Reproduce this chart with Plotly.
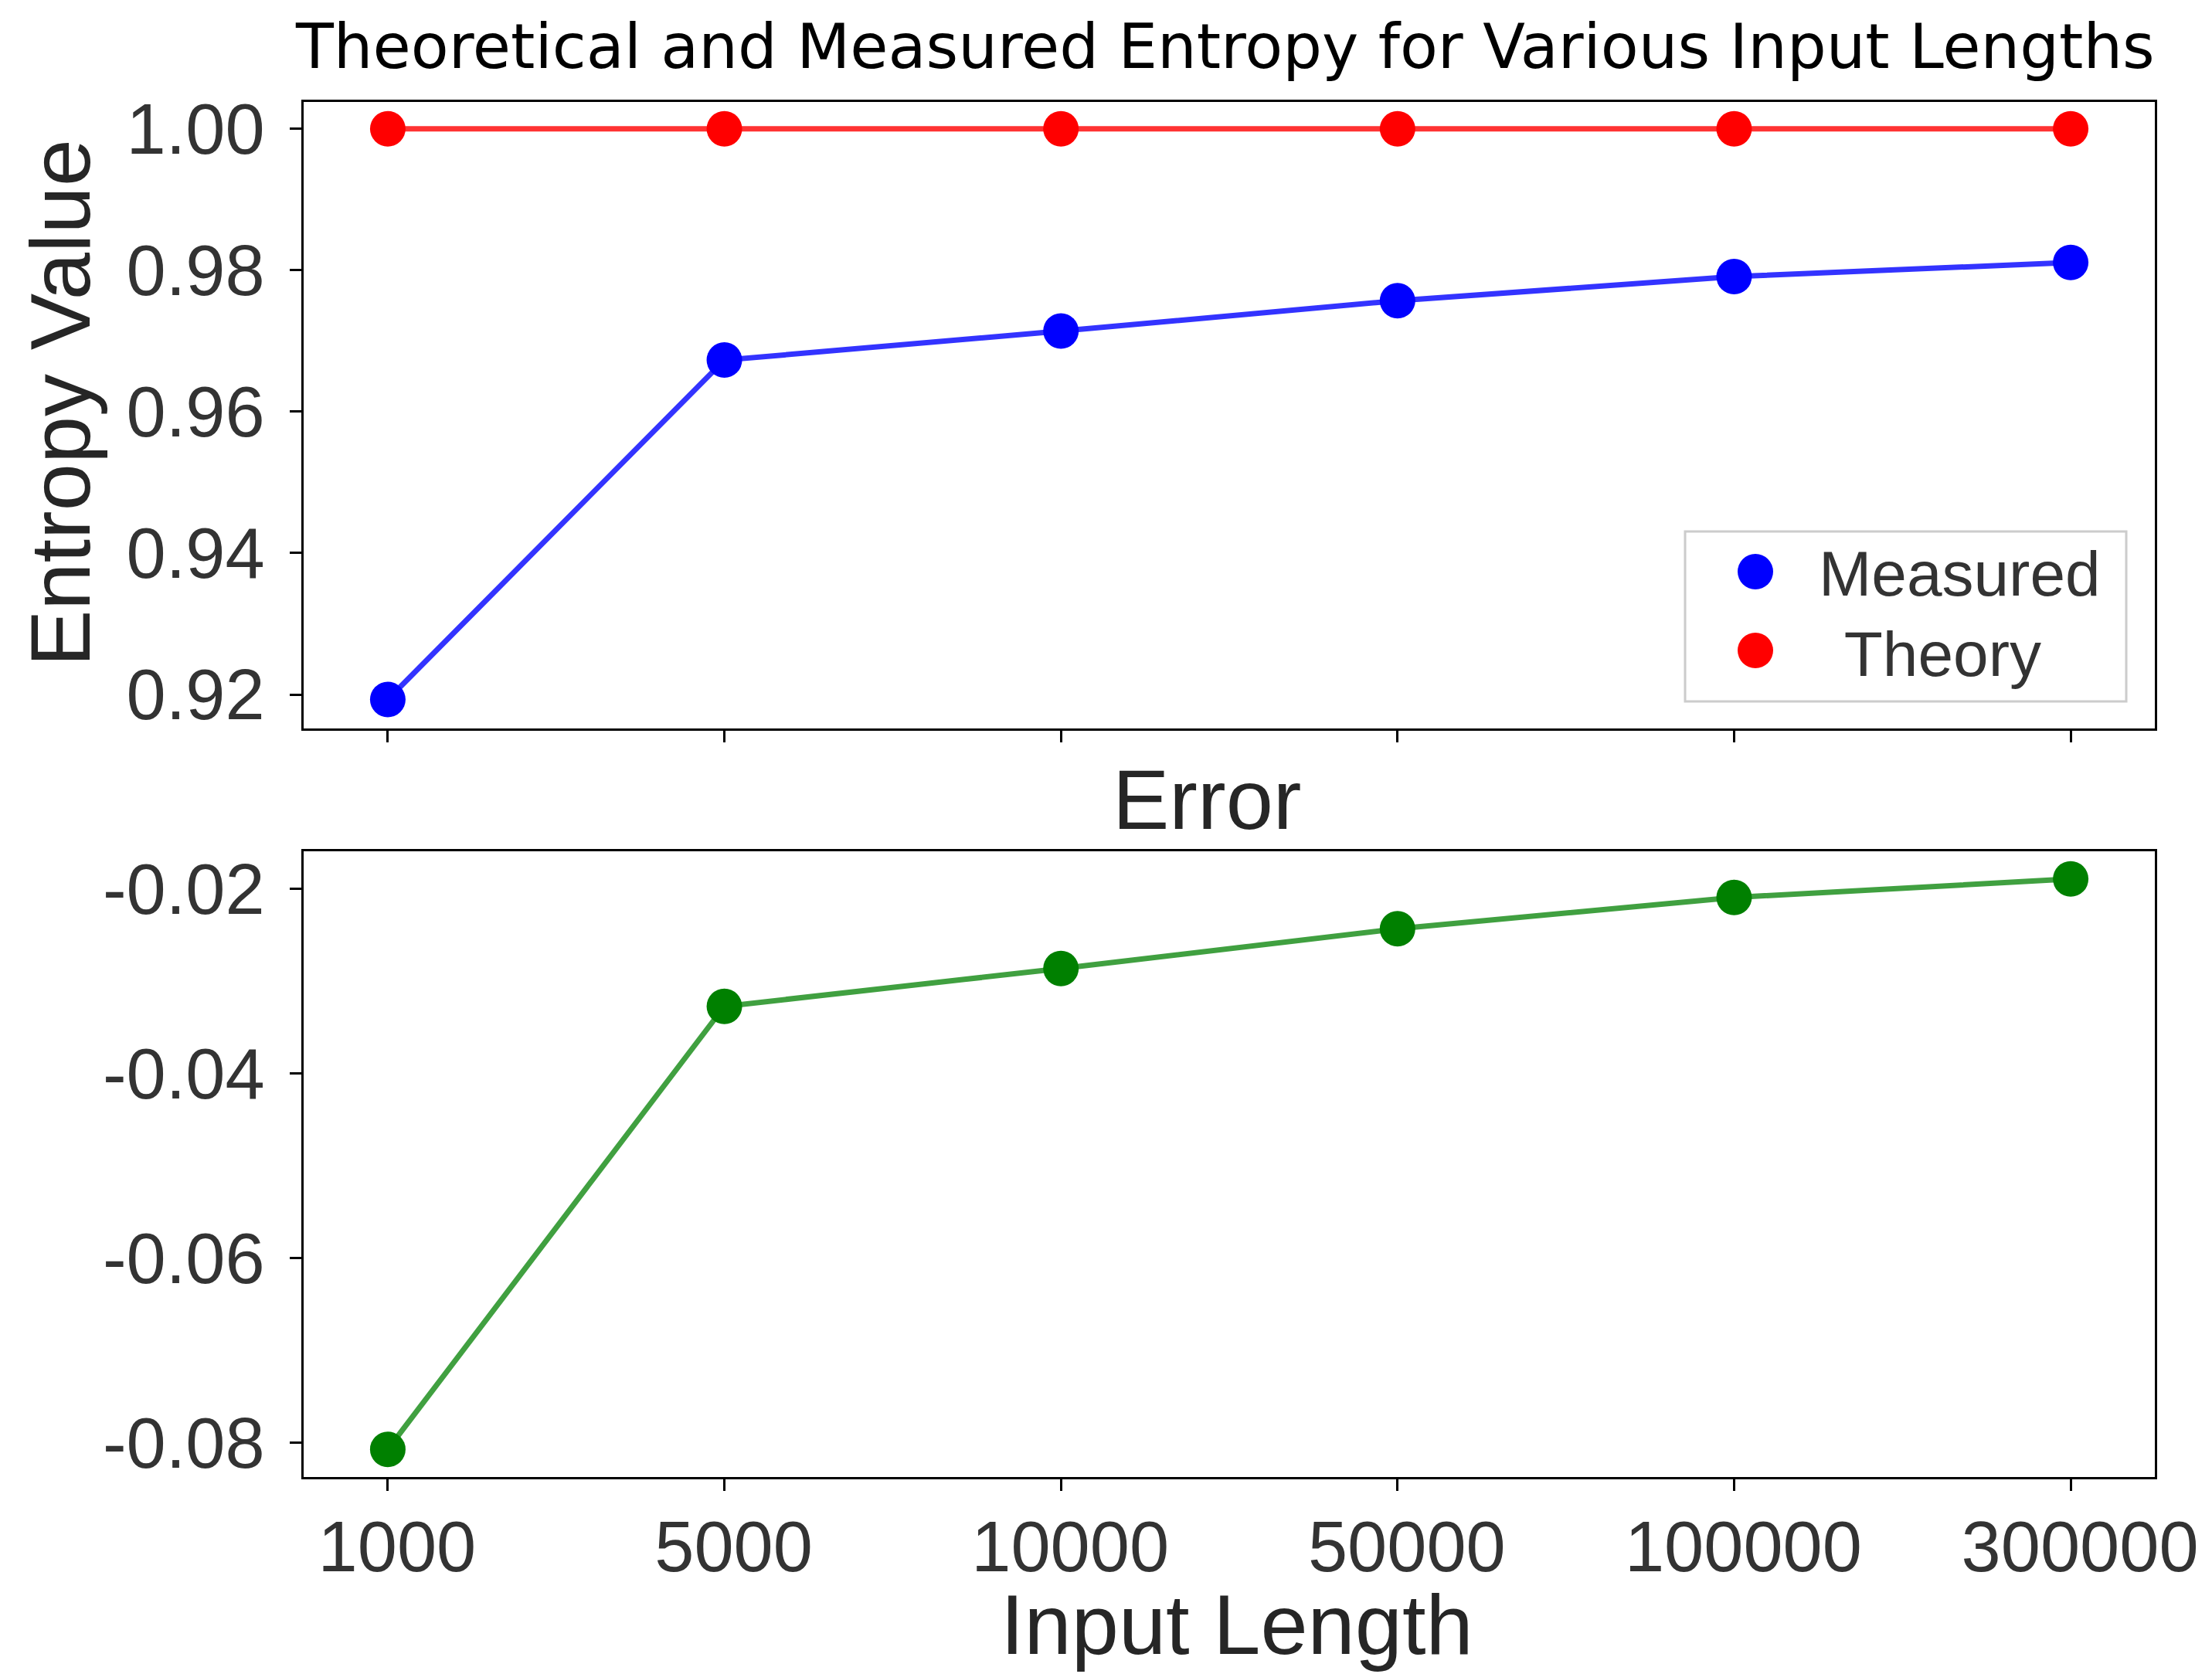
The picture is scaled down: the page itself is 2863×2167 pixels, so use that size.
import plotly.graph_objects as go

# ---------------- data ----------------
input_lengths = ["1000", "5000", "10000", "50000", "100000", "300000"]
measured = [0.9193, 0.9673, 0.9714, 0.9757, 0.9791, 0.9811]
theory = [1.0, 1.0, 1.0, 1.0, 1.0, 1.0]
error = [-0.0807, -0.0327, -0.0286, -0.0243, -0.0209, -0.0189]

top_ticks = [0.92, 0.94, 0.96, 0.98, 1.00]
top_ticktext = ["0.92", "0.94", "0.96", "0.98", "1.00"]
bot_ticks = [-0.08, -0.06, -0.04, -0.02]
bot_ticktext = ["-0.08", "-0.06", "-0.04", "-0.02"]

W, H = 2863, 2167
def px(x):
    return x / W
def py(y):
    return 1 - y / H

TICK_FONT = dict(family="Liberation Sans, Arial, sans-serif", size=92, color="#333333")
LABEL_FONT = dict(family="Liberation Sans, Arial, sans-serif", size=110, color="#262626")
LEG_FONT = dict(family="Liberation Sans, Arial, sans-serif", size=82, color="#333333")

fig = go.Figure()

# top panel
fig.add_trace(go.Scatter(x=input_lengths, y=measured, mode="lines",
                         line=dict(color="rgba(0,0,255,0.8)", width=7),
                         xaxis="x", yaxis="y", showlegend=False, hoverinfo="skip"))
fig.add_trace(go.Scatter(x=input_lengths, y=theory, mode="lines",
                         line=dict(color="rgba(255,0,0,0.8)", width=7),
                         xaxis="x", yaxis="y", showlegend=False, hoverinfo="skip"))
fig.add_trace(go.Scatter(x=input_lengths, y=measured, mode="markers", name="Measured",
                         marker=dict(color="#0000ff", size=46),
                         xaxis="x", yaxis="y", showlegend=False))
fig.add_trace(go.Scatter(x=input_lengths, y=theory, mode="markers", name="Theory",
                         marker=dict(color="#ff0000", size=46),
                         xaxis="x", yaxis="y", showlegend=False))

# bottom panel
fig.add_trace(go.Scatter(x=input_lengths, y=error, mode="lines",
                         line=dict(color="rgba(0,128,0,0.75)", width=7),
                         xaxis="x2", yaxis="y2", showlegend=False, hoverinfo="skip"))
fig.add_trace(go.Scatter(x=input_lengths, y=error, mode="markers", name="Error",
                         marker=dict(color="#008000", size=46),
                         xaxis="x2", yaxis="y2", showlegend=False))

xdom = [px(393), px(2789)]
axis_common = dict(showline=True, linecolor="black", linewidth=3, mirror=True,
                   ticks="outside", ticklen=15, tickwidth=3, tickcolor="black",
                   showgrid=False, zeroline=False, tickfont=TICK_FONT)

fig.update_layout(
    width=W, height=H, autosize=False,
    margin=dict(l=0, r=0, t=0, b=0, autoexpand=False),
    paper_bgcolor="white", plot_bgcolor="white",
    showlegend=False,
    xaxis=dict(domain=xdom, anchor="y", type="category", range=[-0.25, 5.25],
               showticklabels=False, **axis_common),
    yaxis=dict(domain=[py(943), py(132)], anchor="x", range=[0.9152, 1.0038],
               tickvals=top_ticks, ticktext=top_ticktext, ticklabelstandoff=14,
               **axis_common),
    xaxis2=dict(domain=xdom, anchor="y2", type="category", range=[-0.25, 5.25],
                ticklabelstandoff=-6, ticklabelshift=12, **axis_common),
    yaxis2=dict(domain=[py(1912), py(1102)], anchor="x2", range=[-0.0837, -0.0159],
                tickvals=bot_ticks, ticktext=bot_ticktext, ticklabelstandoff=14,
                **axis_common),
)

annotations = [
    dict(text="Theoretical and Measured Entropy for Various Input Lengths",
         x=px(1585), y=py(61), xref="paper", yref="paper", showarrow=False,
         xanchor="center", yanchor="middle",
         font=dict(family="DejaVu Sans", size=80, color="black")),
    dict(text="Error", x=px(1562), y=py(1034), xref="paper", yref="paper",
         showarrow=False, xanchor="center", yanchor="middle", font=LABEL_FONT),
    dict(text="Entropy Value", x=px(78), y=py(522), xref="paper", yref="paper",
         showarrow=False, xanchor="center", yanchor="middle", textangle=-90,
         font=LABEL_FONT),
    dict(text="Input Length", x=px(1601), y=py(2102), xref="paper", yref="paper",
         showarrow=False, xanchor="center", yanchor="middle", font=LABEL_FONT),
    # legend labels
    dict(text="Measured", x=px(2352), y=py(742), xref="paper", yref="paper",
         showarrow=False, xanchor="left", yanchor="middle", font=LEG_FONT),
    dict(text="\u00a0Theory", x=px(2362), y=py(846), xref="paper", yref="paper",
         showarrow=False, xanchor="left", yanchor="middle", font=LEG_FONT),
]
fig.update_layout(annotations=annotations)

# legend box and symbols
r = 23
shapes = [
    dict(type="rect", xref="paper", yref="paper",
         x0=px(2181), x1=px(2752), y0=py(908), y1=py(688),
         line=dict(color="#cccccc", width=3), fillcolor="rgba(255,255,255,0.8)", layer="above"),
    dict(type="circle", xref="paper", yref="paper",
         x0=px(2272 - r), x1=px(2272 + r), y0=py(740 + r), y1=py(740 - r),
         line=dict(width=0), fillcolor="#0000ff", layer="above"),
    dict(type="circle", xref="paper", yref="paper",
         x0=px(2272 - r), x1=px(2272 + r), y0=py(842 + r), y1=py(842 - r),
         line=dict(width=0), fillcolor="#ff0000", layer="above"),
]
fig.update_layout(shapes=shapes)

fig.write_html("out.html", config={"displayModeBar": False},
               post_script="document.body.style.margin='0';document.body.style.overflow='hidden';")
